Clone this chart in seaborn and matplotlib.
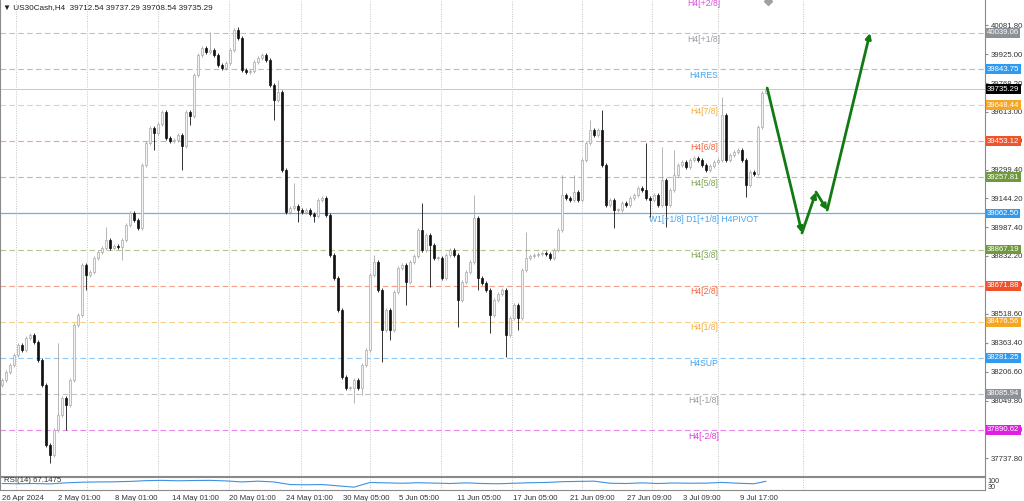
import matplotlib
matplotlib.use("Agg")
import matplotlib.pyplot as plt
import matplotlib.transforms as mtransforms
import numpy as np
import pandas as pd
import seaborn as sns

# ====================== data (US30Cash, H4) ======================
FIRST_OPEN = 38134
CLOSES = [
    38161, 38204, 38242, 38296, 38350, 38323, 38388, 38405, 38367, 38269, 38134, 37809, 37755, 37890, 37972, 38064,
    38026, 38161, 38459, 38513, 38783, 38729, 38746, 38821, 38854, 38875, 38919, 38875, 38886, 38881, 38919, 39000,
    39065, 39027, 38984, 39325, 39444, 39525, 39498, 39547, 39612, 39471, 39455, 39460, 39487, 39427, 39612, 39590,
    39812, 39920, 39958, 39936, 39947, 39920, 39866, 39850, 39877, 39947, 40055, 40012, 39839, 39828, 39833, 39882,
    39904, 39920, 39893, 39758, 39676, 39720, 39298, 39070, 39092, 39103, 39081, 39070, 39081, 39059, 39049, 39135,
    39146, 39054, 38838, 38713, 38540, 38177, 38118, 38118, 38161, 38118, 38242, 38323, 38729, 38800, 38648, 38432,
    38540, 38432, 38637, 38767, 38783, 38691, 38800, 38832, 38973, 38865, 38946, 38892, 38821, 38821, 38713, 38838,
    38865, 38838, 38594, 38691, 38746, 38800, 39038, 38713, 38686, 38648, 38513, 38594, 38626, 38648, 38405, 38497,
    38567, 38497, 38756, 38821, 38832, 38838, 38843, 38848, 38843, 38821, 38865, 38973, 39162, 39146, 39135, 39178,
    39135, 39352, 39444, 39514, 39487, 39514, 39325, 39108, 39135, 39081, 39081, 39119, 39108, 39146, 39162, 39200,
    39189, 39146, 39135, 39162, 39108, 39243, 39108, 39189, 39270, 39325, 39341, 39314, 39352, 39362, 39352, 39325,
    39298, 39319, 39341, 39352, 39595, 39352, 39379, 39395, 39406, 39352, 39216, 39287, 39276, 39530, 39712.54, 39735.29,
]
# notable wick extremes (bar index -> price); other bars get a short wick
HIGHS = {14: 38361, 26: 38989, 52: 40044, 59: 40071, 69: 39785, 73: 39227, 93: 38838,
         105: 39119, 118: 39162, 131: 38962, 140: 39270, 143: 39270, 147: 39568,
         150: 39622, 161: 39444, 165: 39422, 168: 39406, 180: 39693, 191: 39737.29}
LOWS = {12: 37712, 16: 37890, 21: 38648, 30: 38810, 38: 39406, 45: 39298, 47: 39541,
        68: 39568, 74: 39016, 78: 39016, 88: 38036, 90: 38080, 95: 38258, 97: 38378,
        101: 38567, 107: 38664, 114: 38448, 119: 38648, 122: 38415, 126: 38285,
        129: 38432, 153: 38984, 162: 39043, 166: 38989, 186: 39151, 191: 39708.54}
SHORT_WICK = 12

LEVEL_NAMES = ["H4[+2/8]", "H4[+1/8]", "H4RES", "H4[7/8]", "H4[6/8]", "H4[5/8]",
               "W1[+1/8] D1[+1/8] H4PIVOT", "H4[3/8]", "H4[2/8]", "H4[1/8]",
               "H4SUP", "H4[-1/8]", "H4[-2/8]"]
LEVEL_PRICES = [40234.38, 40039.06, 39843.75, 39648.44, 39453.12, 39257.81,
                39062.50, 38867.19, 38671.88, 38476.56, 38281.25, 38085.94, 37890.62]
LEVEL_COLORS = ["#d83fd8", "#8c9198", "#2f9bf0", "#f5a623", "#f0522a", "#6f9a3c",
                "#2f9bf0", "#6f9a3c", "#f0522a", "#f5a623", "#2f9bf0", "#8c9198", "#e020e0"]
LAST_PRICE = 39735.29

PRICE_TICKS = [40081.80, 39925.00, 39768.20, 39613.00, 39456.20, 39299.40, 39144.20, 38987.40,
               38832.20, 38675.40, 38518.60, 38363.40, 38206.60, 38049.80, 37894.60, 37737.80]
DATE_LABELS = ["26 Apr 2024", "2 May 01:00", "8 May 01:00", "14 May 01:00", "20 May 01:00",
               "24 May 01:00", "30 May 05:00", "5 Jun 05:00", "11 Jun 05:00", "17 Jun 05:00",
               "21 Jun 09:00", "27 Jun 09:00", "3 Jul 09:00", "9 Jul 17:00"]

RSI_BARS = [0, 4, 8, 12, 16, 20, 24, 28, 32, 36, 40, 44, 48, 52, 56, 60, 64, 68, 72, 76, 80, 84, 88, 92,
            96, 100, 104, 108, 112, 116, 120, 124, 128, 132, 136, 140, 144, 148, 152, 156, 160, 164,
            168, 172, 176, 180, 184, 188, 191]
RSI_VALUES = [50, 48, 50, 47, 55, 60, 62, 63, 66, 72, 74, 71, 73, 74, 70, 62, 68, 62, 42, 40, 42, 32,
              22, 58, 55, 52, 56, 53, 50, 55, 50, 48, 52, 56, 58, 64, 66, 68, 52, 50, 55, 50, 54, 52,
              53, 58, 52, 48, 67.1475]

# hand-drawn forecast path (bar, price)
FORECAST_BARS = [191.3, 200.0, 203.5, 206.3, 217.0]
FORECAST_PRICES = [39741, 38957, 39178, 39081, 40039]

# ====================== layout / style ======================
W, H = 1024, 501
PLOT_RIGHT = 985
MAIN_BOTTOM = 476
RSI_TOP, RSI_BOTTOM = 477, 490
PX_PER_BAR = 4
Y_TOP, Y_BOTTOM = 40217.6, 37641.5
LABEL_BAR = 175.5
GRID_BARS = [3.5, 21.25, 39.0, 56.75, 74.75, 92.0, 109.75, 127.5, 145.0, 162.5, 179.0, 200.25]
DATE_TICK_BARS = [0.0, 14.0, 28.25, 42.5, 56.75, 71.0, 85.25, 99.25, 113.75, 127.75,
                  142.0, 156.25, 170.25, 184.5]
GREEN = "#127a12"
FS = 5.6

sns.set_style("white")
plt.rcParams.update({
    "font.family": ["Liberation Sans", "DejaVu Sans"],
    "font.size": FS,
    "axes.linewidth": 0.8,
})

fig = plt.figure(figsize=(W / 100, H / 100), dpi=100)
ax = fig.add_axes([0, (H - MAIN_BOTTOM) / H, PLOT_RIGHT / W, MAIN_BOTTOM / H])
ax_rsi = fig.add_axes([0, (H - RSI_BOTTOM) / H, PLOT_RIGHT / W, (RSI_BOTTOM - RSI_TOP) / H])
x_max = PLOT_RIGHT / PX_PER_BAR - 0.5

# ---------------- candles ----------------
closes = np.array(CLOSES, dtype=float)
opens = np.concatenate([[FIRST_OPEN], closes[:-1]])
bars = np.arange(len(closes))
highs = np.maximum(opens, closes) + SHORT_WICK
lows = np.minimum(opens, closes) - SHORT_WICK
for i, v in HIGHS.items():
    highs[i] = v
for i, v in LOWS.items():
    lows[i] = v
up = closes >= opens

wick_cols = np.where(up, "#a8a8a8", "#111111")
ax.vlines(bars, lows, highs, colors=wick_cols, lw=0.6, zorder=3)
body_lo = np.minimum(opens, closes)
body_h = np.maximum(np.abs(closes - opens), 4)
ax.bar(bars[up], body_h[up], bottom=body_lo[up], width=0.62, color="#f4f4f4",
       edgecolor="#a8a8a8", lw=0.5, zorder=4)
ax.bar(bars[~up], body_h[~up], bottom=body_lo[~up], width=0.62, color="#111111",
       edgecolor="#111111", lw=0.5, zorder=4)

# ---------------- levels ----------------
blend = mtransforms.blended_transform_factory(ax.transAxes, ax.transData)
for name, price, col in zip(LEVEL_NAMES, LEVEL_PRICES, LEVEL_COLORS):
    if "PIVOT" in name:
        ax.axhline(price, color="#6aaeea", lw=0.9, zorder=2)
    else:
        ax.axhline(price, color=col, lw=0.8, ls=(0, (5, 3)), alpha=0.55, zorder=2)
    ax.annotate(name, xy=(LABEL_BAR, price), xytext=(0, -1.2), textcoords="offset points",
                ha="center", va="top", fontsize=FS + 0.6, color=col, alpha=0.9,
                annotation_clip=False, zorder=6)
    if price < Y_TOP:
        ax.text(1.002, price, f"{price:.2f}", transform=blend, ha="left", va="center",
                fontsize=FS, color="white", clip_on=False, zorder=10,
                bbox=dict(boxstyle="square,pad=0.18", fc=col, ec="none"))

ax.axhline(LAST_PRICE, color="#c8c8c8", lw=0.7, zorder=2)
ax.text(1.002, LAST_PRICE, f"{LAST_PRICE:.2f}", transform=blend, ha="left", va="center",
        fontsize=FS, color="white", clip_on=False, zorder=11,
        bbox=dict(boxstyle="square,pad=0.18", fc="black", ec="none"))

# ---------------- forecast arrows ----------------
for k in range(len(FORECAST_BARS) - 1):
    ax.annotate("", xy=(FORECAST_BARS[k + 1], FORECAST_PRICES[k + 1]),
                xytext=(FORECAST_BARS[k], FORECAST_PRICES[k]),
                arrowprops=dict(arrowstyle="-|>,head_length=0.55,head_width=0.28",
                                color=GREEN, lw=2.0, shrinkA=0, shrinkB=0), zorder=8)
ax.plot([191.5], [40214], marker="D", ms=4, color="#a0a0a0", clip_on=False, zorder=7)

# ---------------- grid / axes ----------------
for a in (ax, ax_rsi):
    for gx in GRID_BARS:
        a.axvline(gx, color="#c4c4c4", lw=0.7, ls=(0, (1, 1.5)), zorder=1)
    a.set_xlim(-0.5, x_max)
    for s in a.spines.values():
        s.set_color("#8a8a8a")
        s.set_linewidth(0.8)

ax.set_ylim(Y_BOTTOM, Y_TOP)
ax.spines["top"].set_visible(False)
ax.set_xticks([])
ax.yaxis.tick_right()
ax.set_yticks(PRICE_TICKS)
ax.set_yticklabels([f"{t:.2f}" for t in PRICE_TICKS])
ax.tick_params(axis="y", length=2, pad=2, labelsize=FS, colors="#8a8a8a", labelcolor="#333333")

# ---------------- RSI panel ----------------
rsi_df = pd.DataFrame({"bar": RSI_BARS, "rsi": RSI_VALUES})
sns.lineplot(data=rsi_df, x="bar", y="rsi", ax=ax_rsi, color="#3f92e0", lw=0.8, legend=False)
ax_rsi.set_ylim(0, 100)
ax_rsi.set_xlabel("")
ax_rsi.set_ylabel("")
ax_rsi.yaxis.tick_right()
ax_rsi.set_yticks([70, 30])
ax_rsi.set_yticklabels(["100", "30"])
ax_rsi.tick_params(axis="y", length=0, pad=2, labelsize=FS - 0.4, labelcolor="#333333")
ax_rsi.text(0.004, 0.75, "RSI(14) 67.1475", transform=ax_rsi.transAxes, ha="left", va="center",
            fontsize=FS, color="#333333")
ax_rsi.set_xticks(DATE_TICK_BARS)
ax_rsi.set_xticklabels(DATE_LABELS)
for lbl in ax_rsi.get_xticklabels():
    lbl.set_ha("left")
ax_rsi.tick_params(axis="x", length=2, pad=1.5, labelsize=FS, colors="#8a8a8a", labelcolor="#333333")

fig.text(0.003, 0.992, "\u25bc US30Cash,H4  39712.54 39737.29 39708.54 39735.29",
         ha="left", va="top", fontsize=FS + 0.3, color="#222222")

fig.savefig("out.png", dpi=100, facecolor="white")
plt.close(fig)
